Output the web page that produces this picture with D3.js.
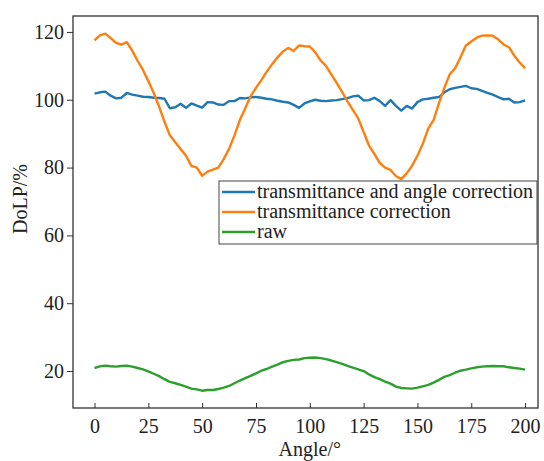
<!DOCTYPE html>
<html>
<head>
<meta charset="utf-8">
<script src="https://cdn.jsdelivr.net/npm/d3@7"></script>
<style>
  body { margin: 0; background: #fff; }
  svg { display: block; font-family: "Liberation Serif", "DejaVu Serif", serif; }
</style>
</head>
<body>
<div id="chart"></div>
<script>
// angles every 2.5 degrees, 0..200
var angles = d3.range(0, 200.01, 2.5);

var transAngle = [101.8, 102.2, 102.4, 101.2, 100.4, 100.6, 102, 101.5, 101.2, 100.9,
  100.8, 100.6, 100.5, 100.3, 97.5, 97.8, 98.8, 97.6, 98.9, 98.3,
  97.7, 99.3, 99.2, 98.6, 98.5, 99.6, 99.6, 100.5, 100.4, 100.7,
  100.8, 100.6, 100.3, 100.1, 99.7, 99.4, 99.2, 98.5, 97.6, 98.9,
  99.5, 100, 99.7, 99.6, 99.8, 99.9, 100.2, 100.5, 101, 101.2,
  99.8, 99.9, 100.6, 99.6, 98.2, 99.9, 98.2, 96.8, 98.2, 97.4,
  99.3, 100.1, 100.3, 100.6, 100.8, 102.2, 103.1, 103.5, 103.8, 104.1,
  103.4, 103.2, 102.6, 102, 101.5, 100.8, 100.1, 100.3, 99.2, 99.3, 99.8];

var transOnly = [117.5, 119, 119.5, 118.2, 116.8, 116.3, 117, 114.5, 111.5, 108.8,
  105.5, 102, 98, 93.5, 89.5, 87.5, 85.5, 83.5, 80.5, 80,
  77.6, 78.8, 79.4, 80, 82.5, 85.5, 89.5, 94, 97.5, 101,
  103.5, 105.8, 108.3, 110.5, 112.5, 114.2, 115.3, 114.4, 116, 115.8,
  115.7, 114, 111.6, 110, 107.5, 105, 102.3, 99.5, 97, 94.5,
  90.5, 86.5, 84, 81.4, 80, 79.3, 77.5, 76.6, 78.3, 80.5,
  83.5, 87, 91.5, 94, 99, 103.5, 107.5, 109.3, 112.5, 116,
  117.2, 118.3, 118.9, 119, 118.9, 117.8, 116.3, 115.5, 113, 111, 109.3];

var raw = [20.9, 21.4, 21.6, 21.4, 21.3, 21.5, 21.6, 21.3, 20.9, 20.5,
  19.9, 19.2, 18.5, 17.6, 16.8, 16.4, 15.9, 15.4, 14.8, 14.6,
  14.2, 14.4, 14.4, 14.7, 15.1, 15.6, 16.4, 17.2, 17.9, 18.6,
  19.3, 20.1, 20.6, 21.3, 21.9, 22.6, 23, 23.3, 23.4, 23.8,
  23.9, 24, 23.8, 23.5, 23.1, 22.6, 22.1, 21.5, 21, 20.5,
  20, 19, 18.2, 17.6, 16.9, 16.3, 15.4, 15, 14.9, 14.8,
  15.1, 15.5, 15.9, 16.6, 17.4, 18.3, 18.8, 19.5, 20.1, 20.4,
  20.8, 21.1, 21.3, 21.4, 21.5, 21.4, 21.4, 21.1, 20.9, 20.7, 20.4];

var seriesNames = ["transmittance and angle correction", "transmittance correction", "raw"];
var seriesColors = ["#1f77b4", "#ff7f0e", "#2ca02c"];
var xTicks = [0, 25, 50, 75, 100, 125, 150, 175, 200];
var yTicks = [20, 40, 60, 80, 100, 120];

var W = 544, H = 461;
var margin = {left: 73, top: 16, right: 6, bottom: 53};

var svg = d3.select("#chart").append("svg")
  .attr("width", W).attr("height", H);

// scales
var x = d3.scaleLinear().domain([-10, 206]).range([margin.left, W - margin.right]);
var y = d3.scaleLinear().domain([9.1, 124.7]).range([H - margin.bottom, margin.top]);

// frame
svg.append("rect")
  .attr("x", margin.left).attr("y", margin.top)
  .attr("width", W - margin.right - margin.left)
  .attr("height", H - margin.bottom - margin.top)
  .attr("fill", "none").attr("stroke", "#333").attr("stroke-width", 1.3);

// x axis, ticks inward
var xAxis = svg.append("g")
  .attr("transform", "translate(0," + (H - margin.bottom) + ")")
  .call(d3.axisBottom(x).tickValues(xTicks).tickSizeInner(-5).tickSizeOuter(0).tickPadding(11));
xAxis.select(".domain").remove();
xAxis.selectAll("line").attr("stroke", "#333");
xAxis.selectAll("text").attr("font-size", 20).attr("fill", "#222")
  .attr("font-family", "Liberation Serif");

// y axis, ticks outward
var yAxis = svg.append("g")
  .attr("transform", "translate(" + margin.left + ",0)")
  .call(d3.axisLeft(y).tickValues(yTicks).tickSizeInner(6).tickSizeOuter(0).tickPadding(3));
yAxis.select(".domain").remove();
yAxis.selectAll("line").attr("stroke", "#333");
yAxis.selectAll("text").attr("font-size", 20).attr("fill", "#222")
  .attr("font-family", "Liberation Serif");

// axis labels
svg.append("text")
  .attr("x", x(100)).attr("y", 456)
  .attr("text-anchor", "middle").attr("font-size", 20).attr("fill", "#222")
  .text("Angle/°");

svg.append("text")
  .attr("transform", "translate(27,199) rotate(-90)")
  .attr("text-anchor", "middle").attr("font-size", 20).attr("fill", "#222")
  .text("DoLP/%");

// lines
var line = d3.line()
  .x(function(d) { return x(d[0]); })
  .y(function(d) { return y(d[1]); });

var allSeries = [transAngle, transOnly, raw];
allSeries.forEach(function(vals, i) {
  var pts = angles.map(function(a, j) { return [a, vals[j]]; });
  svg.append("path")
    .datum(pts)
    .attr("d", line)
    .attr("fill", "none")
    .attr("stroke", seriesColors[i])
    .attr("stroke-width", 2.4)
    .attr("stroke-linejoin", "round");
});

// legend
var lg = svg.append("g").attr("transform", "translate(219,181)");
lg.append("rect")
  .attr("width", 318).attr("height", 63)
  .attr("fill", "#fff").attr("stroke", "#444").attr("stroke-width", 1);

seriesNames.forEach(function(name, i) {
  var ly = 11 + i * 20;
  lg.append("line")
    .attr("x1", 3).attr("x2", 36).attr("y1", ly).attr("y2", ly)
    .attr("stroke", seriesColors[i]).attr("stroke-width", 2.4);
  lg.append("text")
    .attr("x", 38).attr("y", ly + 6)
    .attr("font-size", 20).attr("fill", "#222")
    .text(name);
});
</script>
</body>
</html>
